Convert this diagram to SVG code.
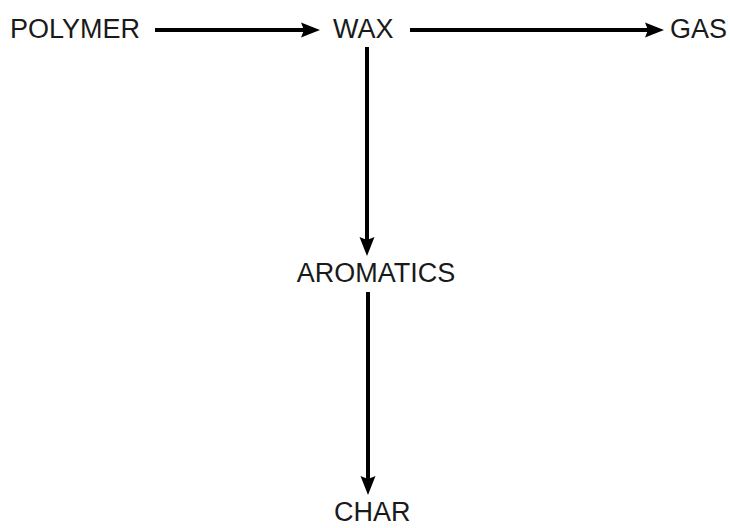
<svg xmlns="http://www.w3.org/2000/svg" width="730" height="528" viewBox="0 0 730 528">
<defs>
<style>
text{font-family:"Liberation Sans",Arial,sans-serif;font-size:27px;fill:#1a1a1a}
.c{stroke:#000;stroke-width:4;fill:none;marker-end:url(#ah)}
</style>
<marker id="ah" viewBox="0 -8 20 16" refX="6" refY="0" markerWidth="20" markerHeight="16" markerUnits="userSpaceOnUse" orient="auto">
<path d="M0,-7.5 L19,0 L0,7.5 L3,0 Z" fill="#000"/>
</marker>
</defs>
<rect width="730" height="528" fill="#fff"/>
<g id="connectors">
<line class="c" x1="155" y1="30" x2="307" y2="30"/>
<line class="c" x1="410" y1="30" x2="651" y2="30"/>
<line class="c" x1="367" y1="47" x2="367" y2="243"/>
<line class="c" x1="368" y1="292" x2="368" y2="482"/>
</g>
<g id="polymer"><text x="10" y="38">POLYMER</text></g>
<g id="wax"><text x="333" y="38">WAX</text></g>
<g id="gas"><text x="670" y="38">GAS</text></g>
<g id="aromatics"><text x="376" y="282" text-anchor="middle">AROMATICS</text></g>
<g id="char"><text x="334" y="521">CHAR</text></g>
</svg>
